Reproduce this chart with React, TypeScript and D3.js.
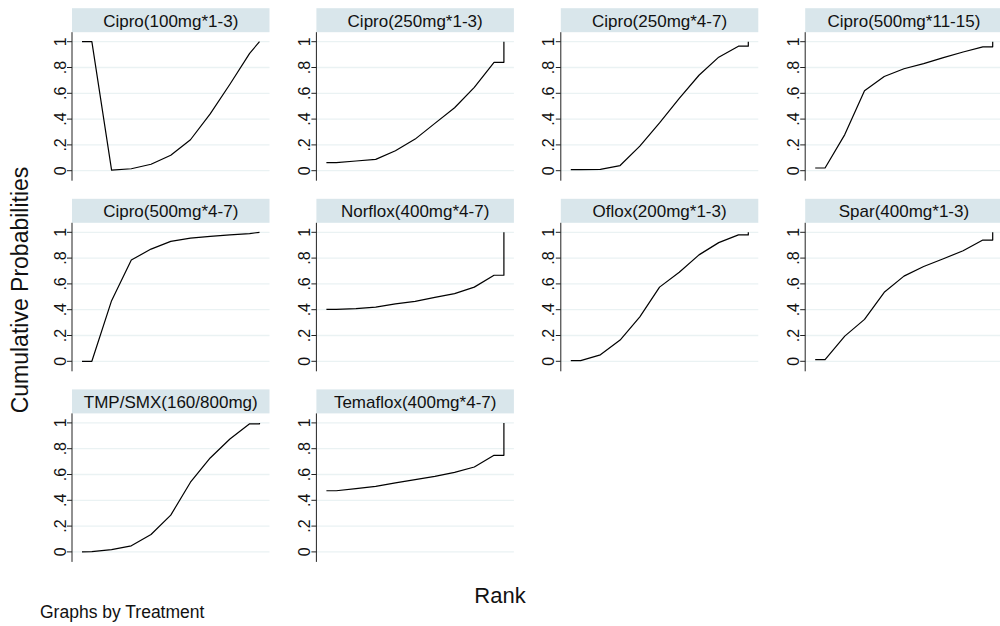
import { useEffect, useRef } from "react";
import * as d3 from "d3";

// Treatment names, in panel order (left-to-right, top-to-bottom)
const TREATMENTS = [
  "Cipro(100mg*1-3)",
  "Cipro(250mg*1-3)",
  "Cipro(250mg*4-7)",
  "Cipro(500mg*11-15)",
  "Cipro(500mg*4-7)",
  "Norflox(400mg*4-7)",
  "Oflox(200mg*1-3)",
  "Spar(400mg*1-3)",
  "TMP/SMX(160/800mg)",
  "Temaflox(400mg*4-7)",
];

// Rank positions of every curve vertex (half steps at the ends, final vertical jump)
const RANKS = [1, 1.5, 2.5, 3.5, 4.5, 5.5, 6.5, 7.5, 8.5, 9.5, 10, 10];

// Cumulative probabilities
const cipro100_13 = [1, 1, 0.005, 0.015, 0.05, 0.12, 0.24, 0.44, 0.67, 0.91, 1, 1];
const cipro250_13 = [0.062, 0.062, 0.075, 0.088, 0.155, 0.245, 0.367, 0.488, 0.646, 0.84, 0.84, 1];
const cipro250_47 = [0.008, 0.008, 0.01, 0.04, 0.19, 0.37, 0.56, 0.74, 0.88, 0.965, 0.965, 1];
const cipro500_1115 = [0.021, 0.021, 0.28, 0.62, 0.73, 0.79, 0.83, 0.876, 0.92, 0.96, 0.96, 1];
const cipro500_47 = [0, 0, 0.47, 0.785, 0.87, 0.93, 0.955, 0.968, 0.98, 0.99, 1, 1];
const norflox400 = [0.403, 0.403, 0.408, 0.42, 0.445, 0.465, 0.495, 0.525, 0.575, 0.667, 0.667, 1];
const oflox200 = [0.005, 0.005, 0.05, 0.165, 0.345, 0.575, 0.69, 0.825, 0.92, 0.98, 0.98, 1];
const spar400 = [0.013, 0.013, 0.195, 0.325, 0.535, 0.66, 0.735, 0.795, 0.857, 0.94, 0.94, 1];
const tmpSmx = [0, 0.002, 0.018, 0.047, 0.135, 0.285, 0.54, 0.728, 0.875, 0.993, 0.993, 1];
const temaflox400 = [0.474, 0.474, 0.49, 0.508, 0.535, 0.56, 0.585, 0.617, 0.658, 0.749, 0.749, 1];

const SERIES = [
  cipro100_13, cipro250_13, cipro250_47, cipro500_1115, cipro500_47,
  norflox400, oflox200, spar400, tmpSmx, temaflox400,
];

const Y_TICKS = [0, 0.2, 0.4, 0.6, 0.8, 1];
const Y_TICK_LABELS = ["0", ".2", ".4", ".6", ".8", "1"];

// Layout
const W = 1000;
const H = 626;
const COLS = 4;
const AXIS_X0 = 72;      // y-axis x of first column
const COL_STEP = 244.4;
const TOP_Y0 = 41.7;     // pixel y of value 1 in first row
const ROW_STEP = 190.6;
const PLOT_H = 129;      // pixels from 0 to 1
const PANEL_W = 197.5;
const X_PAD = 10;
const STRIP_H = 24;

const FONT = "'Liberation Sans', Arial, Helvetica, sans-serif";
const STRIP_FILL = "#d9e6eb";
const GRID = "#eaf2f3";

export default function App() {
  const svgRef = useRef<SVGSVGElement>(null);

  useEffect(() => {
    const svg = d3.select(svgRef.current);
    svg.selectAll("*").remove();

    svg.append("rect").attr("width", W).attr("height", H).attr("fill", "#fff");

    TREATMENTS.forEach((name, i) => {
      const col = i % COLS;
      const row = Math.floor(i / COLS);
      const ax = AXIS_X0 + col * COL_STEP;
      const top = TOP_Y0 + row * ROW_STEP;

      const y = d3.scaleLinear().domain([0, 1]).range([top + PLOT_H, top]);
      const x = d3.scaleLinear().domain([1, 10]).range([ax + X_PAD, ax + PANEL_W - X_PAD]);

      const g = svg.append("g");

      // strip header
      g.append("rect")
        .attr("x", ax)
        .attr("y", top - 9.5 - STRIP_H)
        .attr("width", PANEL_W)
        .attr("height", STRIP_H)
        .attr("fill", STRIP_FILL);

      g.append("text")
        .attr("x", ax + PANEL_W / 2)
        .attr("y", top - 9.5 - STRIP_H / 2 + 1)
        .attr("text-anchor", "middle")
        .attr("dominant-baseline", "central")
        .attr("font-family", FONT)
        .attr("font-size", 17)
        .attr("fill", "#111")
        .text(name);

      // gridlines
      g.selectAll(".grid")
        .data(Y_TICKS)
        .join("line")
        .attr("x1", ax)
        .attr("x2", ax + PANEL_W)
        .attr("y1", (d) => y(d))
        .attr("y2", (d) => y(d))
        .attr("stroke", GRID)
        .attr("stroke-width", 1.3);

      // y axis
      g.append("line")
        .attr("x1", ax).attr("x2", ax)
        .attr("y1", top - 9.5)
        .attr("y2", top + PLOT_H + 10)
        .attr("stroke", "#222")
        .attr("stroke-width", 1);

      g.selectAll(".tick")
        .data(Y_TICKS)
        .join("line")
        .attr("x1", ax - 5)
        .attr("x2", ax)
        .attr("y1", (d) => y(d))
        .attr("y2", (d) => y(d))
        .attr("stroke", "#222")
        .attr("stroke-width", 1);

      g.selectAll(".tlabel")
        .data(Y_TICKS)
        .join("text")
        .attr("transform", (d) => `translate(${ax - 6.5},${y(d)}) rotate(-90)`)
        .attr("text-anchor", "middle")
        .attr("font-family", FONT)
        .attr("font-size", 16)
        .attr("fill", "#111")
        .text((_, j) => Y_TICK_LABELS[j]);

      // cumulative curve
      const pts: [number, number][] = RANKS.map((r, j) => [r, SERIES[i][j]]);
      const line = d3.line<[number, number]>()
        .x((d) => x(d[0]))
        .y((d) => y(d[1]));

      g.append("path")
        .attr("d", line(pts) ?? "")
        .attr("fill", "none")
        .attr("stroke", "#000")
        .attr("stroke-width", 1.2)
        .attr("stroke-linejoin", "round");
    });

    // axis titles
    svg.append("text")
      .attr("transform", "translate(28,290) rotate(-90)")
      .attr("text-anchor", "middle")
      .attr("font-family", FONT)
      .attr("font-size", 23)
      .attr("fill", "#111")
      .text("Cumulative Probabilities");

    svg.append("text")
      .attr("x", 500)
      .attr("y", 603)
      .attr("text-anchor", "middle")
      .attr("font-family", FONT)
      .attr("font-size", 22)
      .attr("fill", "#111")
      .text("Rank");

    svg.append("text")
      .attr("x", 40)
      .attr("y", 618)
      .attr("font-family", FONT)
      .attr("font-size", 17.5)
      .attr("fill", "#111")
      .text("Graphs by Treatment");
  }, []);

  return (
    <div style={{ position: "absolute", left: 0, top: 0 }}>
      <svg ref={svgRef} width={W} height={H} style={{ display: "block" }} />
    </div>
  );
}
